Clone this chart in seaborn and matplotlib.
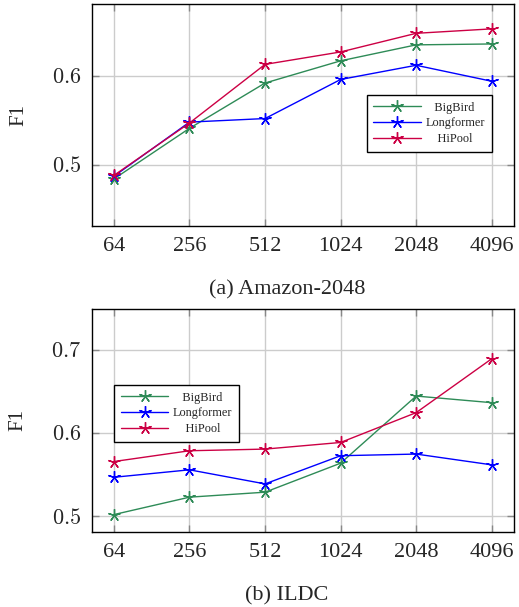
import numpy as np
import pandas as pd
import matplotlib
matplotlib.use("Agg")
import matplotlib.pyplot as plt
import seaborn as sns
from matplotlib.lines import Line2D

# ---- data ----
seq_lengths = ["64", "256", "512", "1024", "2048", "4096"]
models = ["BigBird", "Longformer", "HiPool"]

amazon_bigbird = [0.484, 0.541, 0.592, 0.617, 0.635, 0.636]
amazon_longformer = [0.487, 0.548, 0.552, 0.596, 0.612, 0.594]
amazon_hipool = [0.488, 0.547, 0.613, 0.627, 0.648, 0.653]

ildc_bigbird = [0.502, 0.523, 0.529, 0.564, 0.645, 0.637]
ildc_longformer = [0.547, 0.556, 0.539, 0.573, 0.575, 0.562]
ildc_hipool = [0.566, 0.579, 0.581, 0.589, 0.625, 0.690]

captions = ["(a) Amazon-2048", "(b) ILDC"]
y_ticks_top = [0.5, 0.6]
y_ticks_bottom = [0.5, 0.6, 0.7]

colors = {"BigBird": "#2E8B57", "Longformer": "#0000FF", "HiPool": "#CC0044"}

sns.set_theme(style="white")
plt.rcParams['font.family'] = ['Liberation Serif', 'DejaVu Serif']
plt.rcParams['mathtext.fontset'] = 'cm'


def make_df(vals):
    rows = []
    for m, v in zip(models, vals):
        for i, (lab, y) in enumerate(zip(seq_lengths, v)):
            rows.append({"pos": i, "len": lab, "model": m, "F1": y})
    return pd.DataFrame(rows)


df_a = make_df([amazon_bigbird, amazon_longformer, amazon_hipool])
df_b = make_df([ildc_bigbird, ildc_longformer, ildc_hipool])

fig = plt.figure(figsize=(5.19, 6.07), dpi=100)
ax1 = fig.add_axes([0.1773, 0.6277, 0.8131, 0.3657])
ax2 = fig.add_axes([0.1773, 0.1236, 0.8131, 0.3673])

star = (5, 2, 0)
LEG_FS = 8.8

# padded legend labels so that the text appears centred in its column
renderer = fig.canvas.get_renderer()


def text_w(s):
    t = fig.text(0, 0, s, fontsize=LEG_FS)
    w = t.get_window_extent(renderer).width
    t.remove()
    return w


widths = {m: text_w(m) for m in models}
space_w = text_w("a\u00a0a") - text_w("aa")
maxw = max(widths.values())
pad_labels = []
for m in models:
    n = int(round((maxw - widths[m]) / 2 / max(space_w, 1)))
    pad_labels.append("\u00a0" * n + m)


def draw(ax, df, ylim, yticks, legend_loc):
    sns.lineplot(data=df, x="pos", y="F1", hue="model", hue_order=models,
                 palette=colors, marker=star, markersize=9, linewidth=1.0,
                 ax=ax, legend=False, sort=False)
    for ln in ax.lines:
        ln.set_markeredgecolor(ln.get_color())
        ln.set_markerfacecolor(ln.get_color())
        ln.set_markeredgewidth(1.0)
    ax.set_xlim(-0.29, 5.295)
    ax.set_ylim(*ylim)
    ax.set_xticks(np.arange(len(seq_lengths)))
    ax.set_xticklabels(seq_lengths, fontsize=16)
    ax.set_yticks(yticks)
    ax.set_yticklabels([f"${t:.1f}$" for t in yticks], fontsize=16)
    ax.set_xlabel("")
    ax.set_ylabel("F1", fontsize=15, labelpad=17)
    ax.grid(True, color="#cccccc", linewidth=1.0)
    ax.tick_params(direction="in", length=5, color="#888888", width=1,
                   top=True, right=True, bottom=True, left=True, pad=8)
    for s in ax.spines.values():
        s.set_color("black")
        s.set_linewidth(1.0)
    handles = [Line2D([], [], color=colors[m], marker=star, markersize=9,
                      linewidth=1.0, markeredgecolor=colors[m]) for m in models]
    leg = ax.legend(handles, pad_labels, loc="lower left",
                    bbox_to_anchor=legend_loc, fontsize=LEG_FS,
                    frameon=True, fancybox=False, edgecolor="black",
                    framealpha=1.0, handlelength=3.9, borderpad=0.55,
                    labelspacing=0.3, handletextpad=0.35, borderaxespad=0)
    leg.get_frame().set_linewidth(1.0)
    return leg


draw(ax1, df_a, (0.431, 0.681), y_ticks_top, (0.651, 0.335))
draw(ax2, df_b, (0.481, 0.750), y_ticks_bottom, (0.052, 0.405))

fig.text(0.553, 1 - 290 / 607, captions[0], ha="center", va="center", fontsize=16)
fig.text(0.553, 1 - 596 / 607, captions[1], ha="center", va="center", fontsize=16)

fig.savefig("out.png", dpi=100)
